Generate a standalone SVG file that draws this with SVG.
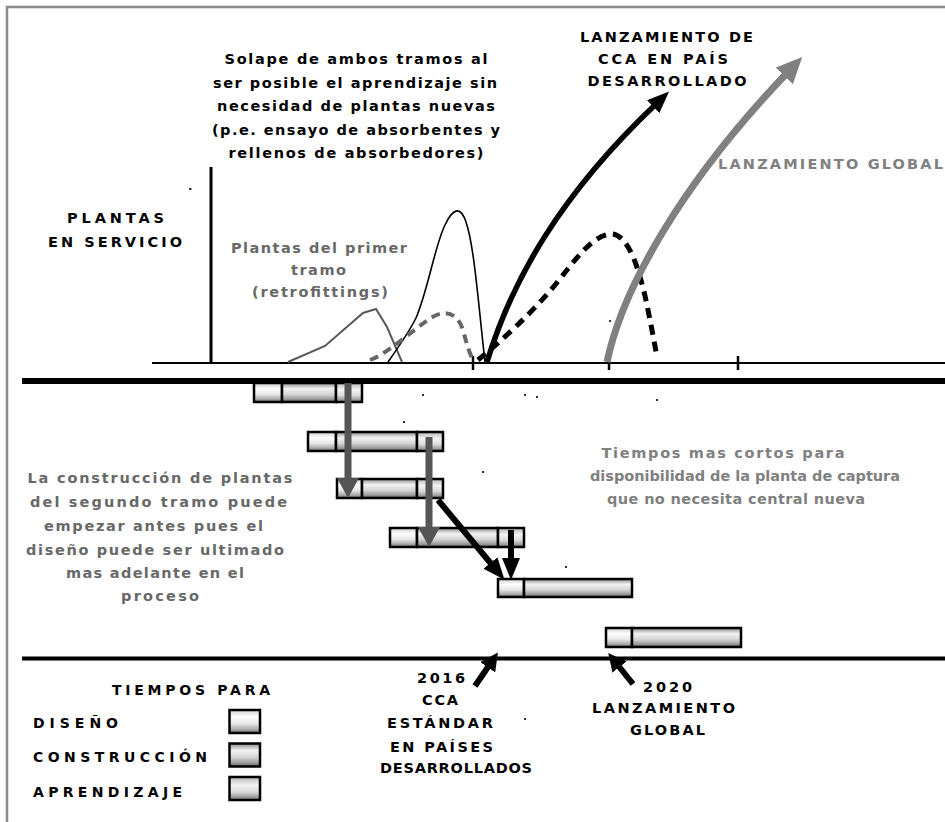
<svg xmlns="http://www.w3.org/2000/svg" width="945" height="822" viewBox="0 0 945 822">
  <style>
    text { font-family: "DejaVu Sans", Verdana, sans-serif; font-weight: bold; }
    .t13 { font-size: 14.5px; }
    .t12 { font-size: 14px; }
    .blk { fill: #000; }
    .gry { fill: #686868; }
    .lgr { fill: #808080; }
    .mid { text-anchor: middle; }
    .bar { stroke: #000; stroke-width: 2.5; }
    .speck { fill: #333; }
  </style>
  <defs>
    <linearGradient id="gDesign" x1="0" y1="0" x2="0" y2="1">
      <stop offset="0" stop-color="#d0d0d0"/>
      <stop offset="0.3" stop-color="#ffffff"/>
      <stop offset="0.6" stop-color="#e6e6e6"/>
      <stop offset="0.85" stop-color="#a8a8a8"/>
      <stop offset="1" stop-color="#707070"/>
    </linearGradient>
    <linearGradient id="gBuild" x1="0" y1="0" x2="0" y2="1">
      <stop offset="0" stop-color="#8a8a8a"/>
      <stop offset="0.3" stop-color="#f2f2f2"/>
      <stop offset="0.6" stop-color="#d4d4d4"/>
      <stop offset="0.85" stop-color="#999999"/>
      <stop offset="1" stop-color="#5a5a5a"/>
    </linearGradient>
    <linearGradient id="gLearn" x1="0" y1="0" x2="0" y2="1">
      <stop offset="0" stop-color="#b4b4b4"/>
      <stop offset="0.35" stop-color="#f4f4f4"/>
      <stop offset="0.65" stop-color="#dadada"/>
      <stop offset="1" stop-color="#7a7a7a"/>
    </linearGradient>
    <marker id="headBlack" markerUnits="userSpaceOnUse" markerWidth="22" markerHeight="18" refX="4" refY="9" orient="auto">
      <path d="M0,0 L22,9 L0,18 z" fill="#000"/>
    </marker>
    <marker id="headGrayBig" markerUnits="userSpaceOnUse" markerWidth="26" markerHeight="24" refX="4" refY="12" orient="auto">
      <path d="M0,0 L26,12 L0,24 z" fill="#808080"/>
    </marker>
    <marker id="headDark" markerUnits="userSpaceOnUse" markerWidth="20" markerHeight="22" refX="4" refY="11" orient="auto">
      <path d="M0,0 L20,11 L0,22 z" fill="#555"/>
    </marker>
    <marker id="headSmall" markerUnits="userSpaceOnUse" markerWidth="18" markerHeight="18" refX="4" refY="9" orient="auto">
      <path d="M0,0 L18,9 L0,18 z" fill="#000"/>
    </marker>
  </defs>

  <!-- outer frame -->
  <rect x="7" y="7" width="950" height="830" fill="#fff" stroke="#8c8c8c" stroke-width="2.5"/>

  <!-- chart axes and timelines -->
  <g id="axes">
    <line x1="211" y1="167" x2="211" y2="363" stroke="#000" stroke-width="3"/>
    <line x1="152" y1="363" x2="945" y2="363" stroke="#000" stroke-width="2"/>
    <line x1="473" y1="356" x2="473" y2="370" stroke="#000" stroke-width="2.5"/>
    <line x1="609" y1="356" x2="609" y2="370" stroke="#000" stroke-width="2.5"/>
    <line x1="738" y1="356" x2="738" y2="370" stroke="#000" stroke-width="2.5"/>
    <line x1="22" y1="381" x2="945" y2="381" stroke="#000" stroke-width="6"/>
    <line x1="22" y1="658.5" x2="945" y2="658.5" stroke="#000" stroke-width="4"/>
  </g>

  <!-- curves of plants in service -->
  <g id="curves" fill="none">
    <polyline points="288,362 325,346 363,313 376,309 387,327 402,362" stroke="#595959" stroke-width="2"/>
    <path d="M388,362 C400,345 410,330 416,318 C428,290 435,245 445,225 C452,210 460,204 466,222 C474,245 478,300 485,362" stroke="#000" stroke-width="1.6"/>
    <path d="M370,360 C390,352 410,332 428,320 C444,308 457,312 463,330 C467,345 470,355 474,362" stroke="#666" stroke-width="4" stroke-dasharray="9 6"/>
    <path d="M478,360 C500,342 530,315 555,285 C575,260 592,236 610,234 C628,232 640,270 648,310 C652,330 655,345 657,358" stroke="#000" stroke-width="5" stroke-dasharray="10 7"/>
    <path d="M487,362 C512,280 560,195 656,104" stroke="#000" stroke-width="5.5" marker-end="url(#headBlack)"/>
    <path d="M607,362 C622,290 680,185 787,73" stroke="#808080" stroke-width="7" marker-end="url(#headGrayBig)"/>
  </g>

  <!-- time bars: design | construction | learning -->
  <g id="bar1">
    <rect class="bar" x="254" y="383" width="28" height="19" fill="url(#gDesign)"/>
    <rect class="bar" x="282" y="383" width="54" height="19" fill="url(#gBuild)"/>
    <rect class="bar" x="336" y="383" width="26" height="19" fill="url(#gLearn)"/>
  </g>
  <g id="bar2">
    <rect class="bar" x="308" y="432" width="28" height="19" fill="url(#gDesign)"/>
    <rect class="bar" x="336" y="432" width="81" height="19" fill="url(#gBuild)"/>
    <rect class="bar" x="417" y="432" width="26" height="19" fill="url(#gLearn)"/>
  </g>
  <g id="bar3">
    <rect class="bar" x="337" y="479" width="25" height="19" fill="url(#gDesign)"/>
    <rect class="bar" x="362" y="479" width="55" height="19" fill="url(#gBuild)"/>
    <rect class="bar" x="417" y="479" width="26" height="19" fill="url(#gLearn)"/>
  </g>
  <g id="bar4">
    <rect class="bar" x="390" y="528" width="27" height="19" fill="url(#gDesign)"/>
    <rect class="bar" x="417" y="528" width="81" height="19" fill="url(#gBuild)"/>
    <rect class="bar" x="498" y="528" width="26" height="19" fill="url(#gLearn)"/>
  </g>
  <g id="bar5">
    <rect class="bar" x="498" y="579" width="26" height="18" fill="url(#gDesign)"/>
    <rect class="bar" x="524" y="579" width="108" height="18" fill="url(#gBuild)"/>
  </g>
  <g id="bar6">
    <rect class="bar" x="606" y="628" width="26" height="19" fill="url(#gDesign)"/>
    <rect class="bar" x="632" y="628" width="109" height="19" fill="url(#gBuild)"/>
  </g>

  <!-- connectors between bars and timeline pointers -->
  <g id="connectors" fill="none">
    <line x1="348" y1="383" x2="348" y2="482" stroke="#555" stroke-width="7" marker-end="url(#headDark)"/>
    <line x1="429" y1="437" x2="429" y2="531" stroke="#555" stroke-width="7" marker-end="url(#headDark)"/>
    <line x1="438" y1="500" x2="493" y2="566" stroke="#000" stroke-width="6" marker-end="url(#headBlack)"/>
    <line x1="511" y1="530" x2="511" y2="562" stroke="#000" stroke-width="6" marker-end="url(#headBlack)"/>
    <line x1="475" y1="686" x2="490" y2="664" stroke="#000" stroke-width="6" marker-end="url(#headSmall)"/>
    <line x1="633" y1="684" x2="617" y2="664" stroke="#000" stroke-width="6" marker-end="url(#headSmall)"/>
  </g>

  <!-- labels -->
  <g id="label-overlap" class="t13 blk mid">
    <text x="356" y="64" textLength="263" lengthAdjust="spacing">Solape de ambos tramos al</text>
    <text x="355" y="87.5" textLength="284" lengthAdjust="spacing">ser posible el aprendizaje sin</text>
    <text x="356" y="111" textLength="278" lengthAdjust="spacing">necesidad de plantas nuevas</text>
    <text x="356" y="134.5" textLength="288" lengthAdjust="spacing">(p.e. ensayo de absorbentes y</text>
    <text x="356" y="158" textLength="255" lengthAdjust="spacing">rellenos de absorbedores)</text>
  </g>
  <g id="label-launch-dev" class="t13 blk mid">
    <text x="666.5" y="42" textLength="173" lengthAdjust="spacing">LANZAMIENTO DE</text>
    <text x="663" y="64" textLength="130" lengthAdjust="spacing">CCA EN PAÍS</text>
    <text x="667" y="86" textLength="159" lengthAdjust="spacing">DESARROLLADO</text>
  </g>
  <g id="label-launch-global" class="t13 lgr">
    <text x="718" y="169" textLength="225" lengthAdjust="spacing">LANZAMIENTO GLOBAL</text>
  </g>
  <g id="label-plants" class="t13 blk mid">
    <text x="115.5" y="223" textLength="97" lengthAdjust="spacing">PLANTAS</text>
    <text x="115" y="247" textLength="134" lengthAdjust="spacing">EN SERVICIO</text>
  </g>
  <g id="label-first" class="t13 gry mid">
    <text x="319" y="253" textLength="176" lengthAdjust="spacing">Plantas del primer</text>
    <text x="318.5" y="275" textLength="55" lengthAdjust="spacing">tramo</text>
    <text x="320" y="297" textLength="136" lengthAdjust="spacing">(retrofittings)</text>
  </g>
  <g id="label-second" class="t13 gry mid">
    <text x="160" y="483" textLength="265" lengthAdjust="spacing">La construcción de plantas</text>
    <text x="158.5" y="507" textLength="257" lengthAdjust="spacing">del segundo tramo puede</text>
    <text x="153.5" y="531" textLength="219" lengthAdjust="spacing">empezar antes pues el</text>
    <text x="155" y="555" textLength="258" lengthAdjust="spacing">diseño puede ser ultimado</text>
    <text x="155" y="578" textLength="178" lengthAdjust="spacing">mas adelante en el</text>
    <text x="160" y="601" textLength="78" lengthAdjust="spacing">proceso</text>
  </g>
  <g id="label-shorter" class="t13 lgr mid">
    <text x="723" y="458" textLength="243" lengthAdjust="spacing">Tiempos mas cortos para</text>
    <text x="745" y="481" textLength="310" lengthAdjust="spacing">disponibilidad de la planta de captura</text>
    <text x="736" y="504" textLength="258" lengthAdjust="spacing">que no necesita central nueva</text>
  </g>
  <g id="label-2016" class="t13 blk mid">
    <text x="441" y="683" textLength="48" lengthAdjust="spacing">2016</text>
    <text x="440" y="705" textLength="36" lengthAdjust="spacing">CCA</text>
    <text x="440" y="728" textLength="106" lengthAdjust="spacing">ESTÁNDAR</text>
    <text x="441.5" y="752" textLength="103" lengthAdjust="spacing">EN PAÍSES</text>
    <text x="456" y="773" textLength="152" lengthAdjust="spacing">DESARROLLADOS</text>
  </g>
  <g id="label-2020" class="t13 blk mid">
    <text x="667.5" y="692" textLength="49" lengthAdjust="spacing">2020</text>
    <text x="663.5" y="713" textLength="143" lengthAdjust="spacing">LANZAMIENTO</text>
    <text x="667.5" y="735" textLength="75" lengthAdjust="spacing">GLOBAL</text>
  </g>

  <!-- legend -->
  <g id="legend">
    <text class="t12 blk" x="112" y="695" textLength="158" lengthAdjust="spacing">TIEMPOS PARA</text>
    <text class="t12 blk" x="33" y="728" textLength="85" lengthAdjust="spacing">DISEÑO</text>
    <text class="t12 blk" x="33" y="762" textLength="174" lengthAdjust="spacing">CONSTRUCCIÓN</text>
    <text class="t12 blk" x="33" y="797" textLength="149" lengthAdjust="spacing">APRENDIZAJE</text>
    <rect class="bar" x="229.5" y="710" width="30.5" height="23" fill="url(#gDesign)"/>
    <rect class="bar" x="229.5" y="743.5" width="30.5" height="23" fill="url(#gBuild)"/>
    <rect class="bar" x="229.5" y="777" width="30.5" height="23" fill="url(#gLearn)"/>
  </g>

  <!-- small marks -->
  <g id="specks">
    <rect class="speck" x="189" y="188" width="2.5" height="2"/>
    <rect class="speck" x="422" y="394" width="2" height="2"/>
    <rect class="speck" x="524" y="394" width="2" height="2"/>
    <rect class="speck" x="536" y="396" width="2" height="2"/>
    <rect class="speck" x="656" y="399" width="2" height="2"/>
    <rect class="speck" x="403" y="421" width="2" height="2"/>
    <rect class="speck" x="482" y="471" width="2" height="2"/>
    <rect class="speck" x="565" y="566" width="2" height="2"/>
    <rect class="speck" x="524" y="718" width="2" height="2"/>
    <rect class="speck" x="609" y="320" width="2" height="2"/>
  </g>
</svg>
